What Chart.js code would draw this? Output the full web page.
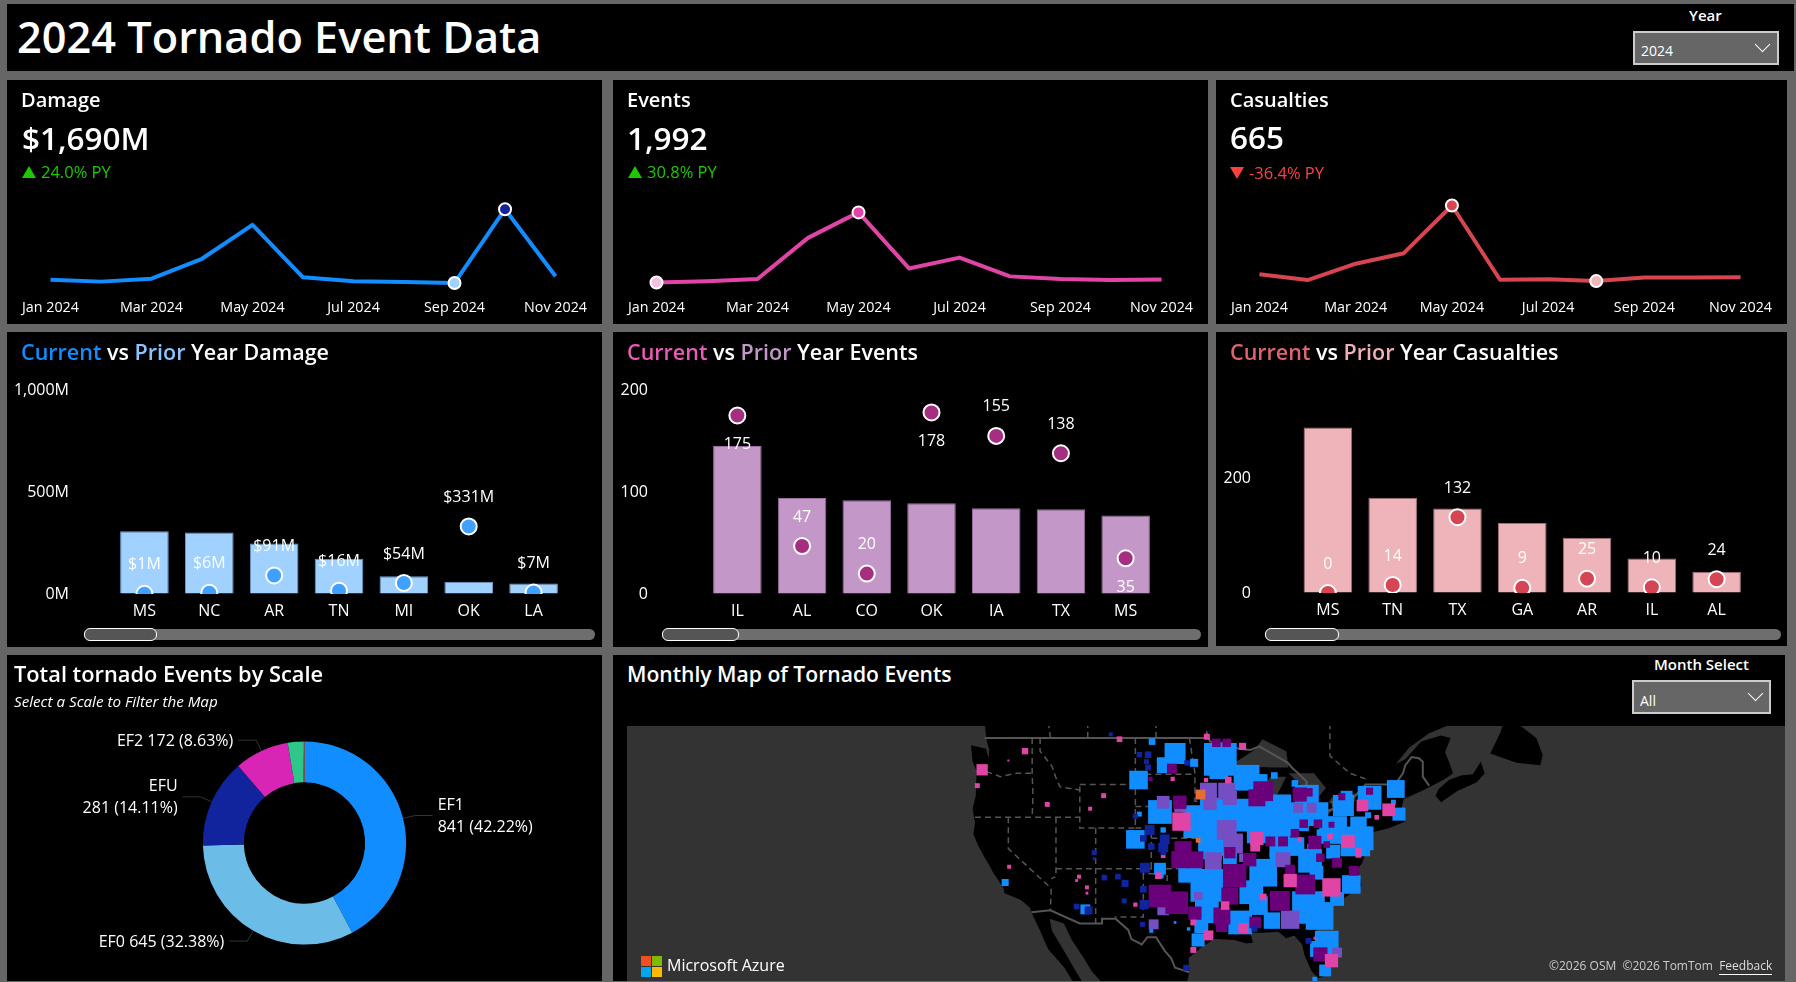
<!DOCTYPE html>
<html>
<head>
<meta charset="utf-8">
<title>2024 Tornado Event Data</title>
<script src="https://cdn.jsdelivr.net/npm/chart.js@4"></script>
<style>
    html, body { margin: 0; padding: 0; background: #666; overflow: hidden; }
    body { width: 1796px; height: 982px; position: relative; font-family: "Open Sans", sans-serif; color: #fff; }
    .panel { position: absolute; background: #000; }
    .panel canvas { position: absolute; left: 0; top: 0; }
    .text { position: absolute; white-space: nowrap; line-height: 1; }
    .title { font-size: 21.5px; font-weight: 600; }
    .kpi { font-size: 20px; font-weight: 600; }
    .big { font-size: 31.5px; font-weight: 600; }
    .delta { font-size: 16.5px; }
    .tri { display: inline-block; width: 0; height: 0; border-left: 7px solid transparent; border-right: 7px solid transparent; margin-right: 5px; }
    .track { position: absolute; height: 11px; background: #6e6e6e; border-radius: 6px; }
    .thumb { position: absolute; left: 0; top: -1px; height: 11px; background: #555; border: 1px solid #fff; border-radius: 6px; box-sizing: content-box; }
    .select { position: absolute; background: #666; border: 2px solid #ccc; box-sizing: border-box; }
    .chev { position: absolute; width: 10px; height: 10px; border-right: 1.5px solid #fff; border-bottom: 1.5px solid #fff; transform: rotate(45deg); }
    #mapWrap { position: absolute; left: 627px; top: 726px; width: 1158px; height: 255px; background: #333; }
    .sq { position: absolute; width: 10px; height: 10px; }
</style>
</head>
<body>
<div class="panel" style="left:7px;top:4px;width:1787px;height:67px"></div>
<div class="text" style="left:17px;top:15px;font-size:43.3px;font-weight:600">2024 Tornado Event Data</div>
<div class="text" style="left:1689px;top:8px;font-size:15px;font-weight:600">Year</div>
<div class="select" style="left:1633px;top:31px;width:146px;height:34px">
    <div class="text" style="left:6px;top:11px;font-size:14px">2024</div>
    <div class="chev" style="left:122px;top:6px"></div>
</div>

<div class="panel" id="p1" style="left:7px;top:80px;width:595px;height:244px"><canvas id="damageLine"></canvas></div>
<div class="panel" id="p2" style="left:613px;top:80px;width:595px;height:244px"><canvas id="eventsLine"></canvas></div>
<div class="panel" id="p3" style="left:1216px;top:80px;width:571px;height:244px"><canvas id="casualtiesLine"></canvas></div>

<div class="text kpi" style="left:21px;top:90px">Damage</div>
<div class="text big" style="left:22px;top:122px">$1,690M</div>
<div class="text delta" style="left:22px;top:164px;color:#1ec800"><span class="tri" style="border-bottom:12px solid #1ec800"></span>24.0% PY</div>

<div class="text kpi" style="left:627px;top:90px">Events</div>
<div class="text big" style="left:627px;top:122px">1,992</div>
<div class="text delta" style="left:628px;top:164px;color:#1ec800"><span class="tri" style="border-bottom:12px solid #1ec800"></span>30.8% PY</div>

<div class="text kpi" style="left:1230px;top:90px">Casualties</div>
<div class="text big" style="left:1230px;top:121px">665</div>
<div class="text delta" style="left:1230px;top:165px;color:#ff4040"><span class="tri" style="border-top:12px solid #ff4040"></span>-36.4% PY</div>

<div class="panel" style="left:7px;top:332px;width:595px;height:315px"><canvas id="damageBars"></canvas></div>
<div class="panel" style="left:613px;top:332px;width:595px;height:315px"><canvas id="eventsBars"></canvas></div>
<div class="panel" style="left:1216px;top:332px;width:571px;height:314px"><canvas id="casualtiesBars"></canvas></div>

<div class="text title" style="left:21px;top:341px"><span style="color:#118dff">Current</span> vs <span style="color:#8cc4ff">Prior</span> Year Damage</div>
<div class="text title" style="left:627px;top:341px"><span style="color:#e85cb4">Current</span> vs <span style="color:#c497c9">Prior</span> Year Events</div>
<div class="text title" style="left:1230px;top:341px"><span style="color:#e0636e">Current</span> vs <span style="color:#efb0b5">Prior</span> Year Casualties</div>

<div class="track" style="left:84px;top:629px;width:511px"><div class="thumb" style="width:71px"></div></div>
<div class="track" style="left:662px;top:629px;width:539px"><div class="thumb" style="width:75px"></div></div>
<div class="track" style="left:1265px;top:629px;width:516px"><div class="thumb" style="width:72px"></div></div>

<div class="panel" style="left:7px;top:655px;width:595px;height:326px"><canvas id="scaleDonut"></canvas></div>
<div class="text title" style="left:14px;top:663px;font-size:21.8px">Total tornado Events by Scale</div>
<div class="text" style="left:14px;top:694px;font-size:15.2px;font-style:italic">Select a Scale to Filter the Map</div>

<div class="panel" style="left:613px;top:655px;width:1172px;height:326px"></div>
<div class="text title" style="left:627px;top:663px;font-size:21.1px">Monthly Map of Tornado Events</div>
<div class="text" style="left:1654px;top:657px;font-size:15px;font-weight:600">Month Select</div>
<div class="select" style="left:1632px;top:680px;width:139px;height:34px">
    <div class="text" style="left:6px;top:12px;font-size:14px">All</div>
    <div class="chev" style="left:116px;top:6px"></div>
</div>
<div id="mapWrap"><canvas id="eventMap"></canvas></div>
<div class="sq" style="left:641px;top:956px;background:#f25022"></div>
<div class="sq" style="left:652px;top:956px;background:#7fba00"></div>
<div class="sq" style="left:641px;top:967px;background:#00a4ef"></div>
<div class="sq" style="left:652px;top:967px;background:#ffb900"></div>
<div class="text" style="left:667px;top:957px;font-size:16px">Microsoft Azure</div>
<div class="text" style="left:1549px;top:960px;font-size:12px;color:#ccc">©2026 OSM&nbsp;&nbsp;©2026 TomTom&nbsp;&nbsp;<span style="border-bottom:1px solid #fff;color:#ddd">Feedback</span></div>

<script>
// sparkline data
const monthLabels = ['Jan 2024', 'Feb 2024', 'Mar 2024', 'Apr 2024', 'May 2024', 'Jun 2024', 'Jul 2024', 'Aug 2024', 'Sep 2024', 'Oct 2024', 'Nov 2024'];
const damageByMonth = [38, 21, 47, 223, 523, 59, 24, 18, 9, 661, 68];
const eventsByMonth = [15, 28, 52, 484, 751, 163, 277, 80, 52, 42, 48];
const casualtiesByMonth = [37, 15, 77, 117, 298, 16, 18, 11, 25, 25, 26];

// current vs prior
const damageStates = ['MS', 'NC', 'AR', 'TN', 'MI', 'OK', 'LA'];
const damageCurrent = [1, 6, 91, 16, 54, 331, 7];
const damagePrior = [307, 301, 247, 173, 87, 60, 52];
const eventStates = ['IL', 'AL', 'CO', 'OK', 'IA', 'TX', 'MS'];
const eventsCurrent = [175, 47, 20, 178, 155, 138, 35];
const eventsPrior = [145, 94, 92, 89, 84, 83, 77];
const casualtyStates = ['MS', 'TN', 'TX', 'GA', 'AR', 'IL', 'AL'];
const casualtiesCurrent = [0, 14, 132, 9, 25, 10, 24];
const casualtiesPrior = [288, 166, 147, 122, 96, 60, 37];

// donut
const scaleNames = ['EF1', 'EF0', 'EFU', 'EF2', 'EF3', 'EF4'];
const scaleCounts = [841, 645, 281, 172, 48, 5];
const labelledScales = ['EF1', 'EF0', 'EFU', 'EF2'];
const twoLineScales = ['EF1', 'EFU'];

// map land, lon/lat
const mainland = [[-123, 52], [-123, 50.5], [-122.8, 49], [-122.4, 48], [-122.5, 47.3], [-122.8, 48.1], [-124.7, 48.4], [-124.5, 47], [-124, 46.2], [-124.1, 44], [-124.5, 42.8], [-124.2, 41.5], [-124.4, 40.4], [-123.8, 39.3], [-122.9, 38], [-122.5, 37.5], [-121.9, 36.6], [-120.6, 35], [-120.5, 34.5], [-119, 34], [-118.4, 33.8], [-117.3, 33], [-117.1, 32.5], [-116, 30.5], [-115, 28.5], [-114, 27.5], [-113, 26.5], [-112, 25], [-111, 24], [-110.5, 24.5], [-111.5, 26], [-112.8, 28], [-114.5, 30.5], [-114.8, 31.8], [-113, 31.3], [-112, 29.5], [-110.5, 27.5], [-109.5, 26], [-108.5, 25], [-107.5, 24], [-97.7, 22], [-97.7, 24], [-97.2, 25.9], [-97.3, 27.5], [-95.5, 28.8], [-94, 29.6], [-91.5, 29.5], [-90, 29.1], [-89.2, 29.2], [-89.5, 30.3], [-88, 30.3], [-86, 30.4], [-85, 29.7], [-84, 30], [-83, 29], [-82.7, 27.8], [-81.8, 26], [-81, 25.2], [-80.3, 25.4], [-80, 26.8], [-80.5, 28.2], [-81.3, 30], [-81, 31.5], [-79.5, 33], [-77.9, 33.9], [-76, 34.9], [-75.5, 35.3], [-76, 37], [-75.5, 37.5], [-75, 38.5], [-74.3, 39.6], [-74, 40.6], [-72, 41], [-70, 41.6], [-70.6, 42.5], [-70.2, 43.7], [-68, 44.4], [-66.9, 44.8], [-65, 45.5], [-64, 46], [-64.5, 47], [-65, 47.8], [-64.3, 49], [-65.5, 49.2], [-68, 48.7], [-70, 47.2], [-71.2, 46.8], [-69.5, 48.2], [-67, 49.4], [-64, 50.2], [-60, 50.3], [-60, 52]];
const novaScotia = [[-66.2, 44], [-65.5, 43.4], [-63.5, 44.4], [-61, 45.2], [-60, 46], [-60.5, 47], [-61.5, 45.9], [-63, 45.8], [-64.5, 45.4], [-65.8, 44.6]];
const newfoundland = [[-59.3, 47.7], [-56, 46.9], [-53, 46.7], [-52.7, 47.6], [-53.5, 49], [-55.5, 50], [-57, 51.5], [-58, 49.5]];
const lakeSuperior = [[-92, 46.7], [-89, 48], [-88, 48.9], [-85, 47.9], [-84.7, 46.5], [-87, 46.5], [-90, 46.6]];
const lakeMichigan = [[-87.8, 42], [-86.5, 42], [-86.2, 44], [-85, 45.7], [-87, 45.7], [-88, 44.5], [-87.6, 43]];
const lakeHuron = [[-84.7, 46], [-81.5, 46], [-80, 44.7], [-81.7, 43.2], [-82.5, 43], [-83.7, 44], [-83.3, 45]];
const lakeErie = [[-83.4, 41.7], [-81, 41.6], [-79, 42.7], [-79, 42.9], [-82.5, 42.3]];
const lakeOntario = [[-79.7, 43.3], [-76.3, 43.5], [-76.3, 44.2], [-79.3, 43.8]];

// solid national borders
const borderCanada = [[-123, 49], [-95.2, 49], [-95, 49.4], [-94.6, 48.7], [-93, 48.6], [-91, 48.1], [-89.5, 48], [-88.4, 48.3], [-84.8, 46.9], [-84.3, 46.5], [-83.5, 46], [-82.5, 45.3], [-82.4, 43], [-83, 42.2], [-82.7, 41.7], [-79, 42.8], [-79.2, 43.4], [-76.8, 43.6], [-75, 45], [-71.5, 45], [-71, 45.3], [-70.3, 46], [-70, 46.7], [-69.2, 47.4], [-68.3, 47.3], [-67.8, 47], [-67.8, 45.7], [-67, 44.9]];
const borderMexico = [[-117.1, 32.5], [-114.7, 32.7], [-111, 31.3], [-108.2, 31.3], [-108.2, 31.8], [-106.5, 31.8], [-104.9, 30.6], [-104.5, 29.6], [-103.2, 29], [-102.5, 29.8], [-101.4, 29.8], [-100.3, 28.3], [-99.5, 27.5], [-99, 26.4], [-97.2, 25.9]];

// dashed state and province lines
const stateLines = [
    [[-124, 46.2], [-123, 46.2], [-121, 45.7], [-119, 46], [-117, 46]],
    [[-117, 49], [-117, 46], [-116.9, 44], [-117, 42]],
    [[-116, 49], [-116, 47.9], [-114.5, 46.6], [-114, 45.6], [-113.5, 44.8], [-111, 44.5]],
    [[-124.2, 42], [-111, 42]],
    [[-120, 42], [-120, 39], [-114.6, 35], [-114.7, 32.7]],
    [[-114, 42], [-114, 37], [-114, 36.2], [-114.6, 36]],
    [[-114, 37], [-94.6, 37]],
    [[-109, 41], [-109, 31.3]],
    [[-111, 45], [-104, 45], [-104, 41], [-111, 41], [-111, 45]],
    [[-104, 49], [-104, 45]],
    [[-104, 41], [-102, 41], [-102, 37]],
    [[-104, 45.9], [-96.5, 45.9]],
    [[-104, 43], [-98, 43], [-96.5, 42.5]],
    [[-102, 40], [-95.3, 40]],
    [[-103, 37], [-103, 36.5], [-100, 36.5], [-100, 34.5]],
    [[-103, 36.5], [-103, 32], [-106.6, 32]],
    [[-97.2, 49], [-96.5, 46], [-96.5, 43.5], [-91.2, 43.5]],
    [[-114.7, 49], [-115, 50.5]],
    [[-110, 49], [-110, 51]],
    [[-101.4, 49], [-101.4, 51]],
    [[-79.5, 51], [-79.5, 47.5], [-77, 46], [-75, 45.5]]
];

// map event cells: lon, lat, size
const blueCells = [[-101.9, 48.7, 4.7], [-99, 47.7, 10.6], [-100.3, 46.7, 8], [-96.6, 46.9, 5.7], [-103.6, 45.4, 9.4], [-93.3, 47.2, 16.5], [-93.5, 46.3, 9.4], [-90, 45.6, 13], [-88.1, 45.4, 6], [-86.5, 45.8, 4.7], [-100.9, 42.5, 12], [-103.5, 42.3, 3.5], [-95.9, 41.6, 16.5], [-93.8, 42.3, 16.5], [-90, 42.2, 16.5], [-87, 42.2, 21], [-85.2, 42.3, 12], [-104, 39.9, 9.4], [-100.5, 40.8, 3.8], [-93.3, 39.9, 16.5], [-87.9, 41.1, 16.5], [-85.8, 39.2, 10.6], [-94.6, 39.1, 12], [-83.9, 45.1, 4.7], [-71.2, 44.6, 9], [-77.8, 43.1, 10.6], [-77.4, 43.9, 6], [-74.5, 43.8, 12], [-71.5, 43.4, 3.5], [-70.8, 42.3, 6.6], [-74.7, 42.2, 4.2], [-75.9, 41.3, 8.3], [-76.3, 39.7, 15], [-75.5, 40, 12], [-79.1, 38.7, 7], [-82.4, 43.9, 12], [-83.9, 42, 14], [-81.2, 42.3, 12], [-79.1, 40.8, 14], [-80.3, 40.2, 7], [-83.9, 39.2, 9.4], [-81.6, 38.9, 6], [-97.1, 36.8, 12], [-95, 35.3, 16.5], [-92.1, 37.9, 7], [-95, 32.6, 12], [-87.9, 36.6, 14], [-89.4, 34.6, 12], [-82, 37.8, 12], [-81.2, 36.6, 7], [-86.2, 37.9, 7], [-90.8, 31.4, 12], [-86.8, 31.6, 8.3], [-80.8, 32.1, 14], [-82.2, 33, 16.5], [-78.6, 33.9, 7], [-76.8, 35.4, 9.4], [-95.7, 31, 7], [-96.1, 29.5, 6.6], [-88.5, 33.2, 9.4], [-79.9, 29.2, 12], [-81, 28.5, 8], [-80.1, 26.1, 6], [-81.4, 25.1, 3.5], [-100.9, 37, 6], [-102, 30.5, 2.8], [-97.3, 30.7, 2.4], [-99, 31.4, 1.9], [-98.2, 34.1, 3.5], [-120.4, 35.6, 5], [-110.3, 32.8, 7], [-100.8, 36.3, 4]];
const violetCells = [[-94.8, 44.4, 12], [-92.5, 44.4, 12], [-92.1, 43.8, 10], [-94.6, 43.3, 9.4], [-100.5, 43.4, 9], [-98.4, 43, 8], [-92.5, 40.8, 14], [-91.7, 39.5, 14], [-83.5, 42.9, 7], [-81.8, 42.9, 7], [-94.2, 37.8, 12], [-90.4, 38.1, 6], [-85.4, 37.9, 10.6], [-96.1, 34.2, 6], [-100.5, 32.8, 8.3], [-101.7, 31.2, 7], [-84.5, 31.7, 13], [-78.6, 28.1, 7]];
const purpleCells = [[-99.4, 46.4, 7], [-102.1, 45.5, 3], [-93.8, 48.6, 6], [-92.5, 48.6, 6], [-87.9, 44.4, 14], [-88.7, 43.8, 12], [-98.4, 43.4, 9.4], [-87, 39.7, 7], [-98, 38.9, 12], [-92.1, 38.6, 8], [-85.4, 39.7, 7], [-83.3, 44.1, 10], [-82.2, 44.3, 6], [-78, 43.9, 5], [-74.5, 44.4, 5], [-82.8, 41.4, 6], [-81, 41.4, 6], [-79.3, 41.3, 4.2], [-83.9, 40.5, 6], [-81.4, 39.6, 9.4], [-79.9, 39.4, 4.7], [-98.4, 37.9, 12], [-96.5, 37.9, 12], [-100.9, 34.2, 16], [-98.8, 33.5, 16], [-91.5, 36.3, 16.5], [-89.6, 37.9, 9.4], [-84.5, 36.9, 7], [-82.6, 35.4, 14], [-78.6, 37.6, 7], [-76.5, 36.8, 7], [-85.8, 33.7, 14], [-92.1, 34.2, 12], [-93.1, 32.1, 12], [-96.5, 32.4, 9.4], [-93.1, 31, 8.3], [-88.9, 31.4, 8.3], [-80.7, 38.1, 6], [-80.7, 27.9, 10]];
const pinkCells = [[-95, 49.1, 4.2], [-90.5, 48.3, 5], [-99.3, 45.5, 3], [-95.1, 45.4, 3], [-92.3, 45.4, 4.7], [-98.2, 41.6, 13], [-88.7, 40, 9.4], [-88.9, 39.2, 7], [-75.4, 43.1, 8.3], [-72.1, 42.7, 9], [-73.6, 42, 3.3], [-77.2, 39.7, 9.4], [-75.9, 38.7, 5], [-79.5, 40.2, 4.2], [-83.3, 39.9, 3], [-101.1, 36.3, 4.7], [-92.7, 33.2, 6], [-96.7, 31.4, 4.2], [-90.4, 30.8, 7], [-94.8, 30, 7], [-84.5, 35.8, 9.4], [-87.9, 34.1, 4.7], [-79.3, 35.1, 13], [-104, 33.3, 3], [-96.7, 28.4, 4.2], [-79.3, 27.2, 9.4], [-81.4, 29.7, 2], [-75.9, 38.4, 4.2], [-100.5, 38.3, 3.3], [-123.3, 46.3, 8], [-123.9, 44.9, 3.5], [-117.9, 47.9, 4.5], [-120, 47.1, 1.4], [-115.1, 43.2, 3.5], [-109.7, 42.8, 2.8], [-108, 44, 3.5], [-119.9, 37.2, 2.8], [-111.1, 36.2, 2.8], [-111.4, 35.8, 2], [-110.1, 35.1, 2.8], [-110.1, 34.5, 2], [-106, 48.9, 4]];
const navyCells = [[-103.5, 47.6, 3.8], [-102.4, 47.6, 4.7], [-102.6, 47, 3.5], [-102.4, 46.5, 4.2], [-97.5, 46.9, 3.8], [-104, 42.1, 3.5], [-102.2, 40.8, 7], [-103, 40, 4.7], [-100.3, 39.9, 7], [-100.5, 39.1, 7], [-102, 39.2, 4.7], [-100.5, 38.6, 3.5], [-102.8, 37.1, 7], [-103, 34.9, 4.7], [-102.9, 33.3, 6.6], [-103.1, 31.2, 3.5], [-97.6, 26.4, 4.2], [-89, 30.7, 4.2], [-82.2, 29.4, 4.2], [-107.1, 49.3, 2.8], [-111.4, 33.1, 4], [-109.9, 32.7, 5.6], [-109.2, 38.6, 3.5], [-109.2, 38, 2], [-107.9, 36.1, 4], [-106.2, 36.2, 4], [-105.3, 35.5, 5], [-105.4, 33.7, 3.5]];
const orangeCells = [[-95.8, 44.1, 7], [-96.1, 39.8, 3.3]];

const FONT = '"Open Sans", sans-serif';

const merc = lat => Math.log(Math.tan(Math.PI / 4 + lat * Math.PI / 360)) * 180 / Math.PI;
const toXY = pts => pts.map(p => ({ x: p[0], y: merc(p[1]) }));
// only the big blobs in the east get spread, the ones in the picture touch each other
const toCells = (cells, grow) => cells.map(c => ({
    x: c[0],
    y: merc(c[1]),
    r: (c[2] >= 6 && c[0] > -105) ? c[2] * grow : c[2]
}));

const sizeCanvas = (id) => {
    const canvas = document.getElementById(id);
    canvas.width = canvas.parentElement.clientWidth;
    canvas.height = canvas.parentElement.clientHeight;
    return canvas;
};

const createSpark = (id, values, color, maxColor, minColor, maxValue, padLeft, padRight, top) => {
    const hi = values.indexOf(Math.max(...values));
    const lo = values.indexOf(Math.min(...values));
    return new Chart(sizeCanvas(id), {
        type: 'line',
        data: {
            labels: monthLabels,
            datasets: [{
                data: values,
                borderColor: color,
                borderWidth: 4,
                borderJoinStyle: 'round',
                tension: 0,
                clip: false,
                pointRadius: c => (c.dataIndex === hi || c.dataIndex === lo) ? 6 : 0,
                pointBackgroundColor: c => c.dataIndex === hi ? maxColor : minColor,
                pointBorderColor: '#fff',
                pointBorderWidth: 2
            }]
        },
        options: {
            responsive: false,
            animation: false,
            layout: { autoPadding: false, padding: { left: padLeft, right: padRight, top: top, bottom: 0 } },
            plugins: { legend: { display: false }, tooltip: { enabled: false } },
            scales: {
                x: {
                    offset: false,
                    grid: { display: false, drawTicks: false },
                    border: { display: false },
                    afterFit: s => { s.height = 40; },
                    ticks: {
                        color: '#fff',
                        font: { family: FONT, size: 14.3 },
                        padding: 15,
                        autoSkip: false,
                        maxRotation: 0,
                        callback: (v, i) => i % 2 === 0 ? monthLabels[i] : ''
                    }
                },
                y: { display: false, min: 0, max: maxValue }
            }
        }
    });
};

createSpark('damageLine', damageByMonth, '#118dff', '#12239e', '#a0d1ff', 831, 43, 46, 110);
createSpark('eventsLine', eventsByMonth, '#e044a7', '#e044a7', '#f5bfe0', 986, 43, 45, 110);
createSpark('casualtiesLine', casualtiesByMonth, '#d64550', '#d64550', '#f0b4b9', 357, 43, 44, 110);

// value text above or below each current year dot
const pointLabelPlugin = {
    id: 'pointLabels',
    afterDatasetsDraw(chart, args, opts) {
        const { ctx } = chart;
        const points = chart.getDatasetMeta(0).data;
        ctx.save();
        ctx.font = '16px ' + FONT;
        ctx.fillStyle = '#fff';
        ctx.textAlign = 'center';
        ctx.textBaseline = 'middle';
        points.forEach((pt, i) => {
            const under = opts.below.includes(chart.data.labels[i]);
            ctx.fillText(opts.format(chart.data.datasets[0].data[i]), pt.x, pt.y + (under ? 29 : -29));
        });
        ctx.restore();
    }
};

const createBars = (cfg) => new Chart(sizeCanvas(cfg.id), {
    type: 'bar',
    data: {
        labels: cfg.labels,
        datasets: [
            {
                type: 'line',
                data: cfg.current,
                showLine: false,
                pointRadius: 8,
                pointBackgroundColor: cfg.dotColor,
                pointBorderColor: '#fff',
                pointBorderWidth: 2
            },
            {
                data: cfg.prior,
                backgroundColor: cfg.barColor,
                borderColor: cfg.barEdge,
                borderWidth: 1,
                barPercentage: 1,
                categoryPercentage: 0.75
            }
        ]
    },
    plugins: [pointLabelPlugin],
    options: {
        responsive: false,
        animation: false,
        layout: { autoPadding: false, padding: { left: 0, right: cfg.padRight, top: cfg.top, bottom: 0 } },
        plugins: {
            legend: { display: false },
            tooltip: { enabled: false },
            pointLabels: { format: cfg.format, below: cfg.below }
        },
        scales: {
            x: {
                grid: { display: false, drawTicks: false },
                border: { display: false },
                afterFit: s => { s.height = cfg.bottom; },
                ticks: { color: '#fff', font: { family: FONT, size: 16 }, padding: 8, autoSkip: false, maxRotation: 0 }
            },
            y: {
                min: 0,
                max: cfg.max,
                // long invisible tick marks push the labels away, tick padding would eat into the plot height
                grid: { drawOnChartArea: false, drawTicks: true, tickLength: cfg.tickPad, tickColor: 'transparent' },
                border: { display: false },
                afterFit: s => { s.width = cfg.left; },
                afterBuildTicks: s => { s.ticks = s.ticks.filter(t => t.value % cfg.step === 0); },
                ticks: { color: '#fff', font: { family: FONT, size: 16 }, padding: 0, stepSize: cfg.step, callback: cfg.tickText }
            }
        }
    }
});

createBars({
    id: 'damageBars', labels: damageStates, current: damageCurrent, prior: damagePrior,
    dotColor: '#40a0ff', barColor: '#a0d1ff', barEdge: '#6f9ccb',
    format: v => '$' + v + 'M', below: [],
    max: 1000, step: 500, tickText: v => v.toLocaleString('en-US') + 'M',
    left: 105, padRight: 36, top: 58, bottom: 53, tickPad: 43
});
createBars({
    id: 'eventsBars', labels: eventStates, current: eventsCurrent, prior: eventsPrior,
    dotColor: '#a62e80', barColor: '#c497c9', barEdge: '#9a6fa0',
    format: v => '' + v, below: ['IL', 'OK', 'MS'],
    max: 200, step: 100, tickText: v => '' + v,
    left: 92, padRight: 50, top: 58, bottom: 53, tickPad: 57
});
createBars({
    id: 'casualtiesBars', labels: casualtyStates, current: casualtiesCurrent, prior: casualtiesPrior,
    dotColor: '#d64554', barColor: '#efb4b9', barEdge: '#a0707a',
    format: v => '' + v, below: [],
    max: 350, step: 200, tickText: v => '' + v,
    left: 79.5, padRight: 38, top: 60, bottom: 53, tickPad: 44.5
});

// leader lines and captions for the donut
const donutLabelPlugin = {
    id: 'donutLabels',
    afterDatasetsDraw(chart) {
        const { ctx } = chart;
        const total = scaleCounts.reduce((a, b) => a + b, 0);
        ctx.save();
        ctx.font = '16px ' + FONT;
        ctx.textBaseline = 'middle';
        chart.getDatasetMeta(0).data.forEach((arc, i) => {
            const name = scaleNames[i];
            if (!labelledScales.includes(name)) return;
            const { x, y, startAngle, endAngle, outerRadius } = arc.getProps(['x', 'y', 'startAngle', 'endAngle', 'outerRadius'], true);
            const mid = (startAngle + endAngle) / 2;
            const right = Math.cos(mid) >= 0;
            const sx = x + Math.cos(mid) * outerRadius;
            const sy = y + Math.sin(mid) * outerRadius;
            const ex = x + Math.cos(mid) * (outerRadius + 12);
            const ey = y + Math.sin(mid) * (outerRadius + 12);
            const hx = ex + (right ? 18 : -18);
            ctx.strokeStyle = '#333';
            ctx.lineWidth = 1;
            ctx.beginPath();
            ctx.moveTo(sx, sy);
            ctx.lineTo(ex, ey);
            ctx.lineTo(hx, ey);
            ctx.stroke();
            ctx.fillStyle = '#fff';
            ctx.textAlign = right ? 'left' : 'right';
            const tx = hx + (right ? 5 : -5);
            const stat = scaleCounts[i] + ' (' + (scaleCounts[i] / total * 100).toFixed(2) + '%)';
            if (twoLineScales.includes(name)) {
                ctx.fillText(name, tx, ey - 10);
                ctx.fillText(stat, tx, ey + 12);
            } else {
                ctx.fillText(name + ' ' + stat, tx, ey + 1);
            }
        });
        ctx.restore();
    }
};

new Chart(sizeCanvas('scaleDonut'), {
    type: 'doughnut',
    data: {
        labels: scaleNames,
        datasets: [{
            data: scaleCounts,
            backgroundColor: ['#118dff', '#6bbce6', '#12239e', '#d925b5', '#2ec78a', '#d9622b'],
            borderWidth: 0
        }]
    },
    plugins: [donutLabelPlugin],
    options: {
        responsive: false,
        animation: false,
        radius: 101.6,
        cutout: '59.7%',
        layout: { autoPadding: false, padding: { top: 50 } },
        plugins: { legend: { display: false }, tooltip: { enabled: false } }
    }
});

// map: first dataset is painted last
const cellSet = (cells, color, grow) => ({
    type: 'bubble',
    data: toCells(cells, grow),
    backgroundColor: color,
    borderWidth: 0,
    pointStyle: 'rect',
    hoverRadius: 0
});
const landSet = (pts, color) => ({
    type: 'scatter',
    data: toXY(pts),
    showLine: true,
    fill: 'shape',
    backgroundColor: color,
    borderWidth: 0,
    pointRadius: 0,
    tension: 0
});
const borderSet = (pts, dashed) => ({
    type: 'scatter',
    data: toXY(pts),
    showLine: true,
    fill: false,
    borderColor: '#555',
    borderWidth: dashed ? 1.5 : 2,
    borderDash: dashed ? [6, 4] : [],
    pointRadius: 0,
    tension: 0
});

new Chart(sizeCanvas('eventMap'), {
    data: {
        datasets: [
            cellSet(orangeCells, '#e66c37', 1),
            cellSet(navyCells, '#12239e', 1),
            cellSet(pinkCells, '#e044a7', 1),
            cellSet(purpleCells, '#6b007b', 1),
            cellSet(violetCells, '#744ec2', 1),
            cellSet(blueCells, '#118dff', 1.4),
            borderSet(borderCanada, false),
            borderSet(borderMexico, false),
            ...stateLines.map(l => borderSet(l, true)),
            landSet(lakeSuperior, '#333'),
            landSet(lakeMichigan, '#333'),
            landSet(lakeHuron, '#333'),
            landSet(lakeErie, '#333'),
            landSet(lakeOntario, '#333'),
            landSet(novaScotia, '#000'),
            landSet(newfoundland, '#000'),
            landSet(mainland, '#000')
        ]
    },
    options: {
        responsive: false,
        animation: false,
        layout: { autoPadding: false, padding: 0 },
        plugins: { legend: { display: false }, tooltip: { enabled: false } },
        scales: {
            x: { type: 'linear', display: false, min: -168.03, max: -22.18 },
            y: { type: 'linear', display: false, min: 25.72, max: 57.88 }
        }
    }
});
</script>
</body>
</html>
